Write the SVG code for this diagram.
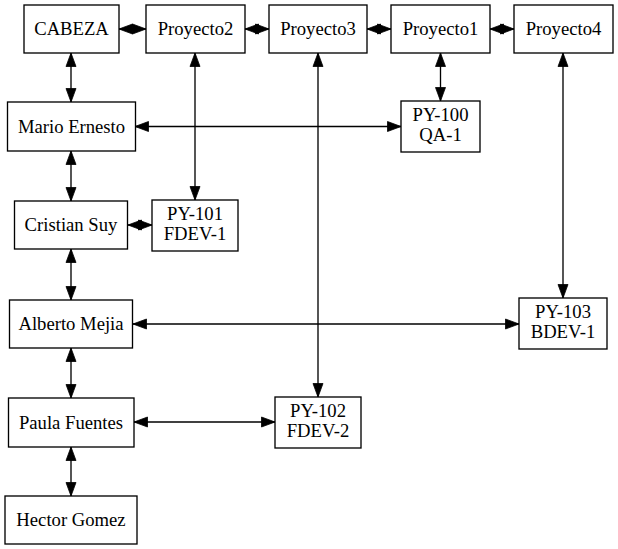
<svg xmlns="http://www.w3.org/2000/svg" width="618" height="549" viewBox="0 0 618 549">
<style>
.n rect{fill:#fff;stroke:#000;stroke-width:1.33}
.n text{font-size:18.67px;text-anchor:middle;fill:#000}
.e line{stroke:#000;stroke-width:1.33;marker-start:url(#a);marker-end:url(#a)}
</style>
<defs>
<marker id="a" markerUnits="userSpaceOnUse" markerWidth="15" markerHeight="12" viewBox="0 0 15 12" refX="14" refY="6" orient="auto-start-reverse">
<path d="M0.5,1 L14,6 L0.5,11 Z" fill="#000" stroke="#000" stroke-width="0.8"/>
</marker>
</defs>
<rect width="618" height="549" fill="#fff"/>
<g class="e" id="connectors">
<line x1="119" y1="29" x2="146" y2="29"/>
<line x1="245" y1="29" x2="269" y2="29"/>
<line x1="367" y1="29" x2="391" y2="29"/>
<line x1="490" y1="29" x2="514" y2="29"/>
<line x1="71" y1="53" x2="71" y2="102"/>
<line x1="71" y1="151" x2="71" y2="201"/>
<line x1="71" y1="249" x2="71" y2="300"/>
<line x1="71" y1="348" x2="71" y2="398"/>
<line x1="71" y1="447" x2="71" y2="496"/>
<line x1="195" y1="53" x2="195" y2="200"/>
<line x1="318" y1="53" x2="318" y2="397"/>
<line x1="440.5" y1="53" x2="440.5" y2="101"/>
<line x1="563" y1="53" x2="563" y2="298"/>
<line x1="135" y1="126.5" x2="401" y2="126.5"/>
<line x1="128" y1="225" x2="152" y2="225"/>
<line x1="133" y1="324" x2="519" y2="324"/>
<line x1="134" y1="422" x2="275" y2="422"/>
</g>
<g font-family="'Liberation Serif', serif">
<g class="n" id="CABEZA"><rect x="24" y="5" width="95" height="48"/><text x="71.5" y="35">CABEZA</text></g>
<g class="n" id="Proyecto2"><rect x="146" y="5" width="99" height="48"/><text x="195.5" y="35">Proyecto2</text></g>
<g class="n" id="Proyecto3"><rect x="269" y="5" width="98" height="48"/><text x="318" y="35">Proyecto3</text></g>
<g class="n" id="Proyecto1"><rect x="391" y="5" width="99" height="48"/><text x="440.5" y="35">Proyecto1</text></g>
<g class="n" id="Proyecto4"><rect x="514" y="5" width="99" height="48"/><text x="563.5" y="35">Proyecto4</text></g>
<g class="n" id="MarioErnesto"><rect x="7.5" y="102" width="128" height="49"/><text x="71.5" y="133">Mario Ernesto</text></g>
<g class="n" id="PY-100"><rect x="401" y="101" width="79" height="51"/><text x="440.5" y="121">PY-100</text><text x="440.5" y="141">QA-1</text></g>
<g class="n" id="CristianSuy"><rect x="14.5" y="201" width="113" height="48"/><text x="71" y="231">Cristian Suy</text></g>
<g class="n" id="PY-101"><rect x="152" y="200" width="86" height="51"/><text x="195" y="220">PY-101</text><text x="195" y="240">FDEV-1</text></g>
<g class="n" id="AlbertoMejia"><rect x="9.5" y="300" width="123" height="48"/><text x="71" y="330">Alberto Mejia</text></g>
<g class="n" id="PY-103"><rect x="519" y="298" width="88" height="51"/><text x="563" y="318">PY-103</text><text x="563" y="338">BDEV-1</text></g>
<g class="n" id="PaulaFuentes"><rect x="8.5" y="398" width="125.5" height="49"/><text x="71" y="429">Paula Fuentes</text></g>
<g class="n" id="PY-102"><rect x="275" y="397" width="86" height="51"/><text x="318" y="417">PY-102</text><text x="318" y="437">FDEV-2</text></g>
<g class="n" id="HectorGomez"><rect x="5" y="496" width="132" height="48"/><text x="71" y="526">Hector Gomez</text></g>
</g>
</svg>
